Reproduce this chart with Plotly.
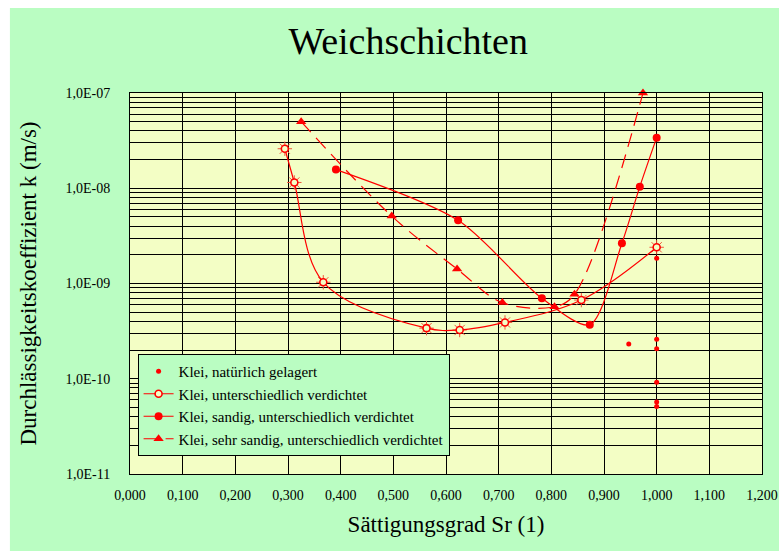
import plotly.graph_objects as go

# Sättigungsgrad Sr (1) and Durchlässigkeitskoeffizient k (m/s) per soil group
sr_natur = [1.0, 1.0, 0.947, 1.0, 1.0, 1.0, 1.0]
k_natur = [1.84e-9, 2.6e-10, 2.31e-10, 2.06e-10, 9.2e-11, 5.7e-11, 5.1e-11]

sr_verd = [0.294, 0.312, 0.367, 0.563, 0.626, 0.712, 0.857, 1.0]
k_verd = [2.6e-8, 1.15e-8, 1.03e-9, 3.4e-10, 3.25e-10, 3.9e-10, 6.7e-10, 2.4e-9]

sr_sand = [0.391, 0.623, 0.782, 0.873, 0.934, 0.968, 1.0]
k_sand = [1.57e-8, 4.6e-9, 7.0e-10, 3.7e-10, 2.65e-9, 1.04e-8, 3.4e-8]

sr_sehr = [0.325, 0.497, 0.621, 0.707, 0.806, 0.844, 0.974]
k_sehr = [5.0e-8, 5.1e-9, 1.42e-9, 6.3e-10, 5.7e-10, 7.7e-10, 1.0e-7]

x_ticks = [0.0, 0.1, 0.2, 0.3, 0.4, 0.5, 0.6, 0.7, 0.8, 0.9, 1.0, 1.1, 1.2]
x_labels = ["0,000", "0,100", "0,200", "0,300", "0,400", "0,500", "0,600",
            "0,700", "0,800", "0,900", "1,000", "1,100", "1,200"]
decades = [-11, -10, -9, -8]
y_labels = ["1,0E-11", "1,0E-10", "1,0E-09", "1,0E-08", "1,0E-07"]

RED = "#FF0000"
GREEN = "#BAFDC2"
YELLOW = "#F3FEC5"
FONT = "Liberation Serif"

# log grid: every 1..9 step per decade, labels only on the decades
y_ticks, y_text = [], []
for i, d in enumerate(decades):
    for m in range(1, 10):
        y_ticks.append(m * 10.0 ** d)
        y_text.append(y_labels[i] if m == 1 else "")
y_ticks.append(1e-7)
y_text.append(y_labels[-1])

fig = go.Figure()

fig.add_trace(go.Scatter(
    x=sr_natur, y=k_natur, mode="markers", name="Klei, natürlich gelagert",
    legendgroup="g1",
    marker=dict(symbol="circle", size=5, color=RED),
))

# spiky ring marker: asterisk underneath a filled ring
fig.add_trace(go.Scatter(
    x=sr_verd, y=k_verd, mode="markers", showlegend=False, hoverinfo="skip",
    marker=dict(symbol="asterisk-open", size=12, line=dict(color=RED, width=1)),
))
fig.add_trace(go.Scatter(
    x=sr_verd, y=k_verd, mode="lines+markers",
    name="Klei, unterschiedlich verdichtet", legendgroup="g2",
    line=dict(color=RED, width=1.2, shape="spline", smoothing=1.0),
    marker=dict(symbol="circle", size=7, color=YELLOW, line=dict(color=RED, width=1.6)),
))

fig.add_trace(go.Scatter(
    x=sr_sand, y=k_sand, mode="lines+markers",
    name="Klei, sandig, unterschiedlich verdichtet", legendgroup="g3",
    line=dict(color=RED, width=1.2, shape="spline", smoothing=0.8),
    marker=dict(symbol="circle", size=8, color=RED),
))

fig.add_trace(go.Scatter(
    x=sr_sehr, y=k_sehr, mode="lines+markers", cliponaxis=False,
    name="Klei, sehr sandig, unterschiedlich verdichtet", legendgroup="g4",
    line=dict(color=RED, width=1.2, shape="spline", smoothing=1.0, dash="14px,8px"),
    marker=dict(symbol="triangle-up", size=9, color=RED),
))

fig.update_layout(
    width=779, height=551,
    margin=dict(l=130, r=17, t=93, b=77),
    paper_bgcolor=GREEN,
    plot_bgcolor=YELLOW,
    font=dict(family=FONT, color="black", size=14),
    title=dict(
        text="Weichschichten", x=0.524, xref="container", xanchor="center",
        y=0.927, yref="container", yanchor="middle",
        font=dict(family=FONT, size=38, color="black"),
    ),
    showlegend=True,
    legend=dict(
        x=0.012, y=0.315, xanchor="left", yanchor="top",
        bgcolor=GREEN, bordercolor="black", borderwidth=1,
        font=dict(family=FONT, size=15, color="black"),
        traceorder="grouped", tracegroupgap=0,
        itemwidth=30,
    ),
    shapes=[
        # white strips along the top and left edges of the page
        dict(type="rect", xref="paper", yref="paper", x0=-0.3, x1=1.1,
             y0=1.223, y1=1.3, fillcolor="white", line=dict(width=0), layer="below"),
        dict(type="rect", xref="paper", yref="paper", x0=-0.3, x1=-0.19,
             y0=-0.3, y1=1.3, fillcolor="white", line=dict(width=0), layer="below"),
    ],
)

fig.update_xaxes(
    range=[0, 1.2], tickmode="array", tickvals=x_ticks, ticktext=x_labels,
    automargin=False,
    showgrid=True, gridcolor="black", gridwidth=1, zeroline=False,
    showline=True, linecolor="black", linewidth=1, mirror=True,
    ticks="", ticklabelstandoff=8,
    tickfont=dict(family=FONT, size=14, color="black"),
    title=dict(text="Sättigungsgrad Sr (1)", standoff=14,
               font=dict(family=FONT, size=23, color="black")),
)
fig.update_yaxes(
    type="log", range=[-11, -7], tickmode="array", tickvals=y_ticks, ticktext=y_text,
    automargin=False,
    showgrid=True, gridcolor="black", gridwidth=1, zeroline=False,
    showline=True, linecolor="black", linewidth=1, mirror=True,
    ticks="", ticklabelstandoff=16,
    tickfont=dict(family=FONT, size=14, color="black"),
    title=dict(text="Durchlässigkeitskoeffizient k (m/s)", standoff=22,
               font=dict(family=FONT, size=23, color="black")),
)

fig.write_html("out.html")
